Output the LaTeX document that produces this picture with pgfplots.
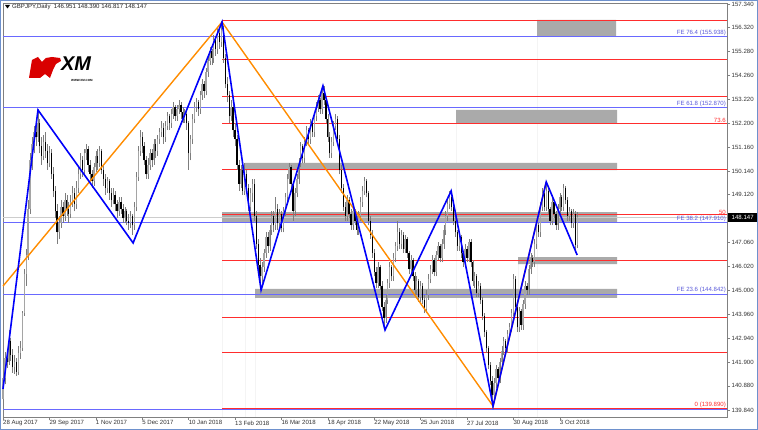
\documentclass[border=0pt]{standalone}
\usepackage{pgfplots}
\usepackage{pgfplotstable}
\pgfplotsset{compat=1.18}
\usepackage{fontspec}
\setmainfont{Liberation Sans}
\definecolor{fibred}{RGB}{255,45,45}
\definecolor{feblue}{RGB}{105,105,255}
\definecolor{zzblue}{RGB}{0,0,250}
\definecolor{zzorange}{RGB}{255,140,0}
\definecolor{zone}{RGB}{170,170,170}
\definecolor{bidline}{RGB}{205,205,205}
\definecolor{wick}{RGB}{125,125,125}
\definecolor{bullc}{RGB}{165,165,165}
\definecolor{frame}{RGB}{128,128,128}
\definecolor{winb}{RGB}{110,145,205}
\newcommand\tf{\fontsize{6.1}{7}\selectfont}

\pgfplotstableread{
b o h l c
0 140.30 141.40 140.00 141.20
1 141.20 142.35 140.95 142.10
2 142.10 142.40 141.65 141.90
3 141.90 143.30 141.80 142.80
4 142.80 142.95 141.95 142.20
5 142.20 142.45 141.45 141.70
6 141.70 142.20 141.40 141.90
7 141.90 142.10 141.30 141.50
8 141.50 142.60 141.35 142.30
9 142.30 142.80 142.05 142.50
10 142.50 144.10 142.40 144.00
11 144.00 145.90 143.90 145.70
12 145.70 146.80 145.20 146.50
13 146.50 148.90 146.30 148.50
14 148.50 150.90 148.30 150.60
15 150.60 151.60 150.20 151.30
16 151.30 152.10 150.90 151.80
17 151.80 152.30 151.20 151.60
18 151.60 152.80 151.40 152.20
19 152.20 152.40 150.90 151.20
20 151.20 151.60 150.40 150.80
21 150.80 151.70 150.60 151.40
22 151.40 151.80 150.70 151.00
23 151.00 151.30 150.20 150.50
24 150.50 151.20 150.30 150.90
25 150.90 151.10 149.80 150.00
26 150.00 150.30 149.00 149.30
27 149.30 149.50 148.10 148.40
28 148.40 148.70 147.00 147.50
29 147.50 148.20 147.20 147.90
30 147.90 148.90 147.70 148.60
31 148.60 148.80 147.90 148.20
32 148.20 149.20 148.00 148.90
33 148.90 149.10 148.20 148.50
34 148.50 148.80 147.90 148.30
35 148.30 149.10 148.10 148.80
36 148.80 149.50 148.60 149.20
37 149.20 149.40 148.40 148.70
38 148.70 149.70 148.50 149.40
39 149.40 150.30 149.20 150.00
40 150.00 150.90 149.80 150.60
41 150.60 150.80 149.90 150.20
42 150.20 151.10 150.00 150.90
43 150.90 151.30 150.60 151.10
44 151.10 151.20 150.10 150.40
45 150.40 150.60 149.70 150.00
46 150.00 150.20 149.40 149.70
47 149.70 150.50 149.50 150.30
48 150.30 151.00 150.10 150.80
49 150.80 151.10 150.20 150.50
50 150.50 151.20 150.30 151.00
51 151.00 151.10 150.00 150.20
52 150.20 150.40 149.50 149.80
53 149.80 150.00 149.10 149.40
54 149.40 149.90 149.20 149.70
55 149.70 149.80 148.90 149.20
56 149.20 149.40 148.60 148.90
57 148.90 149.40 148.70 149.10
58 149.10 149.30 148.40 148.70
59 148.70 148.90 148.10 148.40
60 148.40 149.00 148.20 148.80
61 148.80 149.00 148.30 148.50
62 148.50 148.70 147.90 148.10
63 148.10 148.60 147.90 148.40
64 148.40 148.50 147.80 148.00
65 148.00 148.30 147.60 147.90
66 147.90 148.40 147.70 148.20
67 148.20 148.30 147.40 147.80
68 147.80 148.80 147.60 148.60
69 148.60 150.10 148.40 149.90
70 149.90 151.20 149.70 151.00
71 151.00 151.90 150.80 151.60
72 151.60 151.80 150.90 151.20
73 151.20 151.40 150.40 150.60
74 150.60 150.80 149.80 150.00
75 150.00 150.70 149.80 150.40
76 150.40 151.10 150.20 150.90
77 150.90 151.10 150.30 150.60
78 150.60 151.50 150.40 151.30
79 151.30 151.50 150.70 151.00
80 151.00 151.70 150.80 151.50
81 151.50 152.00 151.30 151.80
82 151.80 152.30 151.60 152.00
83 152.00 152.20 151.30 151.60
84 151.60 152.30 151.40 152.10
85 152.10 152.70 151.90 152.50
86 152.50 152.60 151.90 152.20
87 152.20 152.80 152.00 152.60
88 152.60 153.10 152.40 152.90
89 152.90 153.00 152.30 152.50
90 152.50 153.00 152.30 152.80
91 152.80 153.20 152.60 153.00
92 153.00 153.10 152.40 152.70
93 152.70 152.90 152.20 152.40
94 152.40 152.80 152.20 152.60
95 152.60 152.70 151.90 152.20
96 152.20 152.30 150.20 150.90
97 150.90 151.70 150.60 151.50
98 151.50 152.60 151.30 152.40
99 152.40 153.10 152.20 152.90
100 152.90 153.30 152.70 153.10
101 153.10 153.20 152.50 152.80
102 152.80 153.60 152.60 153.40
103 153.40 154.10 153.20 153.90
104 153.90 154.00 153.30 153.60
105 153.60 154.60 153.40 154.40
106 154.40 155.10 154.20 154.90
107 154.90 155.50 154.70 155.30
108 155.30 155.40 154.70 155.00
109 155.00 156.00 154.80 155.80
110 155.80 155.90 155.10 155.40
111 155.40 156.30 155.20 156.10
112 156.10 156.20 155.40 155.70
113 155.70 156.60 155.50 156.20
114 156.20 156.40 154.80 155.00
115 155.00 155.20 153.70 153.90
116 153.90 154.20 153.10 153.40
117 153.40 153.60 152.20 152.50
118 152.50 153.20 152.30 152.90
119 152.90 153.00 151.60 151.90
120 151.90 152.20 151.20 151.50
121 151.50 151.70 150.20 150.40
122 150.40 150.60 149.30 149.60
123 149.60 150.40 149.40 150.20
124 150.20 150.30 149.10 149.30
125 149.30 150.50 149.10 150.00
126 150.00 150.20 149.20 149.40
127 149.40 149.60 148.40 148.60
128 148.60 149.40 148.40 149.20
129 149.20 149.80 148.80 149.60
130 149.60 149.80 148.00 148.20
131 148.20 148.40 146.80 147.00
132 147.00 147.20 145.90 146.10
133 146.10 146.40 145.00 145.60
134 145.60 146.20 145.30 146.00
135 146.00 146.80 145.80 146.60
136 146.60 147.50 146.40 147.30
137 147.30 147.50 146.60 146.90
138 146.90 147.80 146.70 147.60
139 147.60 148.40 147.40 148.20
140 148.20 148.40 147.50 147.80
141 147.80 149.00 147.60 148.50
142 148.50 148.70 147.60 147.90
143 147.90 148.50 147.70 148.30
144 148.30 148.40 147.50 147.70
145 147.70 148.60 147.50 148.40
146 148.40 149.20 148.20 149.00
147 149.00 150.00 148.80 149.80
148 149.80 150.50 149.60 150.30
149 150.30 150.40 149.40 149.60
150 149.60 149.70 148.00 148.40
151 148.40 149.40 148.20 149.20
152 149.20 150.00 149.00 149.80
153 149.80 150.70 149.60 150.50
154 150.50 151.40 150.30 151.20
155 151.20 151.30 150.50 150.70
156 150.70 151.60 150.50 151.40
157 151.40 152.10 151.20 151.90
158 151.90 152.00 151.30 151.50
159 151.50 152.40 151.30 152.20
160 152.20 152.30 151.60 151.80
161 151.80 152.70 151.60 152.50
162 152.50 153.10 152.30 152.90
163 152.90 153.40 152.70 153.20
164 153.20 153.30 152.60 152.80
165 152.80 153.70 152.60 153.50
166 153.50 153.80 153.00 153.20
167 153.20 153.30 152.20 152.40
168 152.40 152.60 151.40 151.60
169 151.60 151.80 150.70 150.90
170 150.90 151.60 150.70 151.40
171 151.40 152.30 151.20 152.10
172 152.10 152.60 151.90 152.40
173 152.40 152.50 151.30 151.50
174 151.50 151.70 150.00 150.20
175 150.20 150.40 149.20 149.40
176 149.40 149.60 148.40 148.60
177 148.60 148.80 148.00 148.20
178 148.20 149.10 148.00 148.90
179 148.90 149.00 148.10 148.30
180 148.30 148.50 147.60 147.80
181 147.80 148.60 147.60 148.40
182 148.40 148.50 147.80 148.00
183 148.00 148.20 147.40 147.60
184 147.60 148.40 147.40 148.20
185 148.20 149.00 148.00 148.80
186 148.80 149.50 148.60 149.30
187 149.30 149.90 149.10 149.70
188 149.70 149.80 149.00 149.20
189 149.20 149.30 147.80 148.00
190 148.00 148.20 147.20 147.40
191 147.40 147.60 146.40 146.60
192 146.60 146.80 145.60 145.80
193 145.80 146.00 145.10 145.30
194 145.30 146.20 145.10 146.00
195 146.00 146.10 145.00 145.20
196 145.20 145.40 144.10 144.30
197 144.30 144.50 143.30 143.80
198 143.80 144.80 143.60 144.60
199 144.60 145.50 144.40 145.30
200 145.30 146.20 145.10 146.00
201 146.00 146.10 145.40 145.60
202 145.60 146.60 145.40 146.40
203 146.40 147.10 146.20 146.90
204 146.90 148.00 146.70 147.50
205 147.50 147.70 146.80 147.00
206 147.00 147.60 146.80 147.40
207 147.40 147.50 146.60 146.80
208 146.80 147.40 146.60 147.20
209 147.20 147.30 146.40 146.60
210 146.60 146.70 145.70 145.90
211 145.90 146.50 145.70 146.30
212 146.30 146.40 145.40 145.60
213 145.60 145.80 144.80 145.00
214 145.00 145.60 144.80 145.40
215 145.40 145.50 144.50 144.70
216 144.70 145.40 144.50 145.20
217 145.20 145.30 144.40 144.60
218 144.60 144.80 144.00 144.20
219 144.20 145.00 144.00 144.80
220 144.80 145.70 144.60 145.50
221 145.50 146.10 145.30 145.90
222 145.90 146.50 145.70 146.30
223 146.30 146.40 145.60 145.80
224 145.80 146.70 145.60 146.50
225 146.50 147.10 146.30 146.90
226 146.90 147.00 146.20 146.40
227 146.40 147.20 146.20 147.00
228 147.00 147.80 146.80 147.60
229 147.60 148.40 147.40 148.20
230 148.20 148.90 148.00 148.70
231 148.70 149.30 148.50 149.00
232 149.00 149.10 148.40 148.60
233 148.60 148.70 147.80 148.00
234 148.00 148.20 147.30 147.50
235 147.50 147.60 146.70 146.90
236 146.90 147.50 146.70 147.30
237 147.30 147.40 146.40 146.60
238 146.60 146.70 146.00 146.20
239 146.20 147.00 146.00 146.80
240 146.80 146.90 146.20 146.40
241 146.40 147.20 146.20 147.10
242 147.10 147.20 146.00 146.20
243 146.20 146.30 145.20 145.40
244 145.40 145.80 145.10 145.60
245 145.60 145.70 144.70 144.90
246 144.90 145.40 144.70 145.20
247 145.20 145.30 144.40 144.60
248 144.60 144.70 143.70 143.90
249 143.90 144.00 143.00 143.20
250 143.20 143.30 142.30 142.50
251 142.50 142.60 141.60 141.80
252 141.80 141.90 140.90 141.10
253 141.10 141.30 139.90 140.50
254 140.50 141.20 140.30 141.00
255 141.00 141.80 140.80 141.60
256 141.60 141.70 141.00 141.20
257 141.20 142.10 141.00 141.90
258 141.90 142.60 141.70 142.40
259 142.40 143.00 142.20 142.80
260 142.80 142.90 142.30 142.50
261 142.50 143.30 142.30 143.10
262 143.10 143.60 142.90 143.40
263 143.40 144.20 143.20 144.00
264 144.00 145.70 143.90 145.50
265 145.50 145.60 144.10 144.30
266 144.30 144.40 143.20 143.40
267 143.40 144.30 143.20 144.10
268 144.10 144.20 143.30 143.50
269 143.50 144.60 143.30 144.40
270 144.40 145.40 144.20 145.20
271 145.20 145.30 144.80 145.00
272 145.00 146.10 144.80 145.90
273 145.90 146.60 145.70 146.40
274 146.40 146.50 146.00 146.20
275 146.20 147.20 146.00 147.00
276 147.00 148.00 146.80 147.80
277 147.80 147.90 147.30 147.50
278 147.50 148.80 147.30 148.60
279 148.60 149.40 148.40 149.20
280 149.20 149.30 148.40 148.60
281 148.60 149.70 148.40 149.30
282 149.30 149.40 148.30 148.50
283 148.50 148.60 147.80 148.00
284 148.00 149.00 147.80 148.80
285 148.80 148.90 148.10 148.30
286 148.30 148.40 147.60 147.80
287 147.80 148.70 147.60 148.50
288 148.50 149.20 148.30 149.00
289 149.00 149.10 148.40 148.60
290 148.60 149.60 148.40 149.40
291 149.40 149.50 148.70 148.90
292 148.90 149.00 148.00 148.20
293 148.20 148.60 148.00 148.40
294 148.40 148.50 147.70 147.90
295 147.90 148.50 147.70 148.30
296 148.30 148.40 146.60 146.95
297 146.951 148.390 146.817 148.147
}\ohlc

\begin{document}
\begin{tikzpicture}
\useasboundingbox (0,0) rectangle (758bp,430bp);
\begin{axis}[
  at={(3bp,13bp)}, anchor=south west,
  scale only axis, width=724bp, height=414bp,
  xmin=0, xmax=374.5, ymin=139.54, ymax=157.38,
  clip=false,
  axis line style={draw=frame, line width=0.7bp},
  tick align=outside, major tick length=3bp,
  tick style={draw=frame, line width=0.5bp},
  xtick pos=bottom, ytick pos=right, yticklabel pos=right,
  xtick={0,24,...,288},
  xticklabels={28 Aug 2017,29 Sep 2017,1 Nov 2017,5 Dec 2017,10 Jan 2018,13 Feb 2018,16 Mar 2018,18 Apr 2018,22 May 2018,25 Jun 2018,27 Jul 2018,30 Aug 2018,3 Oct 2018},
  xticklabel style={font=\tf, anchor=north west, inner sep=0.5bp, xshift=-0.5bp, text=black!80},
  ytick={139.84,140.88,141.90,142.94,143.96,145.00,146.02,147.06,149.12,150.14,151.16,152.20,153.22,154.26,155.28,156.32,157.34},
  yticklabels={139.840,140.880,141.900,142.940,143.960,145.000,146.020,147.060,149.120,150.140,151.160,152.200,153.220,154.260,155.280,156.320,157.340},
  yticklabel style={font=\tf, anchor=west, inner sep=1bp, xshift=0.5bp, text=black!80},
]
% zones
\addplot[fill=zone, draw=none] coordinates {(276.3,155.92) (317.1,155.92) (317.1,156.65) (276.3,156.65)} \closedcycle;
\addplot[fill=zone, draw=none] coordinates {(234.4,152.17) (317.6,152.17) (317.6,152.77) (234.4,152.77)} \closedcycle;
\addplot[fill=zone, draw=none] coordinates {(125.2,150.18) (317.6,150.18) (317.6,150.49) (125.2,150.49)} \closedcycle;
\addplot[fill=zone, draw=none] coordinates {(113.3,147.95) (317.6,147.95) (317.6,148.37) (113.3,148.37)} \closedcycle;
\addplot[fill=zone, draw=none] coordinates {(266.4,146.13) (317.6,146.13) (317.6,146.43) (266.4,146.43)} \closedcycle;
\addplot[fill=zone, draw=none] coordinates {(130.4,144.67) (317.6,144.67) (317.6,145.06) (130.4,145.06)} \closedcycle;
% bid line
\addplot[bidline, line width=0.6bp] coordinates {(0,148.147) (374.5,148.147)};
% FE lines (blue)
\addplot[feblue, line width=0.8bp] coordinates {(0,155.938) (374.5,155.938)};
\addplot[feblue, line width=0.8bp] coordinates {(0,152.870) (374.5,152.870)};
\addplot[feblue, line width=0.8bp] coordinates {(0,147.910) (374.5,147.910)};
\addplot[feblue, line width=0.8bp] coordinates {(0,144.842) (374.5,144.842)};
\addplot[feblue, line width=0.8bp] coordinates {(0,139.880) (374.5,139.880)};
% Fibo lines (red)
\foreach \lv in {156.61,154.96,153.37,152.20,150.22,148.25,146.28,143.84,142.33,139.89}{
  \edef\tmp{\noexpand\addplot[fibred, line width=0.8bp] coordinates {(113.3,\lv) (374.5,\lv)};}\tmp
}
% candles: wicks
\addplot[draw=none, mark=none, error bars/.cd, y dir=plus, y explicit, error mark=none,
  error bar style={draw=wick, solid, line width=0.55bp}]
  table[x=b, y=l, y error expr=\thisrow{h}-\thisrow{l}] {\ohlc};
% bull bodies
\addplot[draw=none, mark=none, unbounded coords=discard, error bars/.cd, y dir=plus, y explicit, error mark=none,
  error bar style={draw=bullc, solid, line width=1.3bp}]
  table[x=b, y expr={ifthenelse(\thisrow{c}>\thisrow{o},\thisrow{o},nan)}, y error expr={max(\thisrow{c}-\thisrow{o},0.04)}] {\ohlc};
% bear bodies
\addplot[draw=none, mark=none, unbounded coords=discard, error bars/.cd, y dir=plus, y explicit, error mark=none,
  error bar style={draw=black, solid, line width=1.3bp}]
  table[x=b, y expr={ifthenelse(\thisrow{c}>\thisrow{o},nan,\thisrow{c})}, y error expr={max(\thisrow{o}-\thisrow{c},0.04)}] {\ohlc};
% zigzags
\addplot[zzorange, line width=1.4bp] coordinates {(0,145.18) (113.3,156.56) (253.5,140.01) (281,149.67)};
\addplot[zzblue, line width=1.6bp] coordinates {(0,140.75) (18.1,152.77) (67.3,147.04) (113.3,156.56) (133.5,145.01) (165.5,153.81) (197.6,143.29) (231.8,149.28) (253.5,140.01) (281,149.67) (297,146.52)};
% labels
\node[font=\tf, text=feblue!85!black, anchor=south east, inner sep=0.6bp] at (axis cs:374.3,155.938) {FE 76.4 (155.938)};
\node[font=\tf, text=feblue!85!black, anchor=south east, inner sep=0.6bp] at (axis cs:374.3,152.870) {FE 61.8 (152.870)};
\node[font=\tf, text=feblue!85!black, anchor=south east, inner sep=0.6bp] at (axis cs:374.3,147.910) {FE 38.2 (147.910)};
\node[font=\tf, text=feblue!85!black, anchor=south east, inner sep=0.6bp] at (axis cs:374.3,144.842) {FE 23.6 (144.842)};
\node[font=\tf, text=fibred, anchor=south east, inner sep=0.6bp] at (axis cs:374.3,152.20) {73.6};
\node[font=\tf, text=fibred, anchor=south east, inner sep=0.6bp] at (axis cs:374.3,148.25) {50};
\node[font=\tf, text=fibred, anchor=south east, inner sep=0.6bp] at (axis cs:374.3,139.89) {0 (139.890)};
% current price tag
\node[font=\tf, fill=black, text=white, anchor=west, inner sep=0pt, minimum width=29bp, minimum height=9bp, xshift=1bp] at (axis cs:374.5,148.147) {148.147};
\end{axis}
% title
\fill[black] (5bp,425bp) -- (10bp,425bp) -- (7.5bp,421.5bp) -- cycle;
\node[font=\tf, anchor=west, inner sep=0pt, text=black!85] at (12bp,423bp) {GBPJPY,Daily\ \ 146.951 148.390 146.817 148.147};
% XM logo
\fill[red!85!black] (29bp,352bp) -- (32bp,370bp) -- (38bp,373bp) -- (42bp,368bp) -- (46bp,372bp) -- (52bp,373bp) -- (60bp,372bp) -- (61bp,369bp) -- (56bp,366bp) -- (53bp,360bp) -- (50bp,352bp) -- (45bp,356bp) -- (40bp,352bp) -- cycle;
\node[font=\fontsize{20}{20}\selectfont\bfseries\itshape, anchor=west, inner sep=0pt] at (61bp,366bp) {XM};
\node[font=\fontsize{3}{3}\selectfont\bfseries, anchor=west, inner sep=0pt] at (71bp,350bp) {WWW.XM.COM};
% window border
\draw[winb, line width=1bp] (0.5bp,0.5bp) rectangle (757.5bp,429.5bp);
\end{tikzpicture}
\end{document}
